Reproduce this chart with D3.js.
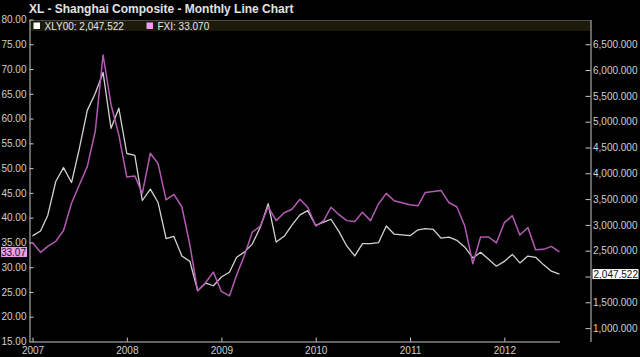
<!DOCTYPE html>
<html><head><meta charset="utf-8">
<script src="https://cdn.jsdelivr.net/npm/d3@7"></script>
<style>
html,body{margin:0;padding:0;background:#000;}
svg{display:block;font-family:"Liberation Sans",Arial,sans-serif;}
</style></head>
<body><svg id="c" width="640" height="357"></svg>
<script>
// ---- data ----
const startMonth = "2007-01";
const years = ["2007","2008","2009","2010","2011","2012"];
const shanghai = [
 2786.34,2881.07,3183.98,3841.27,4109.65,3820.70,4471.03,5218.83,5552.30,5954.77,4871.78,5261.56,
 4383.39,4348.54,3472.71,3693.11,3433.35,2736.10,2775.72,2397.37,2293.78,1728.79,1871.16,1820.81,
 1990.66,2082.85,2373.21,2477.57,2632.93,2959.36,3412.06,2667.74,2779.43,2995.85,3195.30,3277.14,
 2989.29,3051.94,3109.10,2870.61,2592.15,2398.37,2637.50,2638.80,2655.66,2978.84,2820.18,2808.08,
 2790.69,2905.05,2928.11,2911.51,2743.47,2762.08,2701.73,2567.34,2359.22,2468.25,2333.41,2199.42,
 2292.61,2428.49,2262.79,2396.32,2372.23,2225.43,2103.63,2047.522
];
const fxi = [
 35.0,33.0,34.2,35.2,37.4,42.9,46.6,50.3,57.5,72.85,62.8,56.7,
 48.2,48.4,44.9,53.0,50.9,43.6,44.7,42.2,34.5,25.2,26.9,29.0,
 25.1,24.2,28.4,32.5,37.1,38.3,42.2,39.4,41.0,41.7,43.7,42.1,
 38.3,39.4,42.1,40.6,39.4,39.2,41.1,39.4,42.8,44.9,43.4,43.0,
 42.6,42.4,45.1,45.3,45.5,43.0,42.2,38.3,30.7,36.1,36.1,34.9,
 39.0,40.4,36.5,38.0,33.5,33.6,34.2,33.07
];
const leftTicks = [15,20,25,30,35,40,45,50,55,60,65,70,75,80];
const rightTicks = [1000,1500,2000,2500,3000,3500,4000,4500,5000,5500,6000,6500];
const seriesNames = ["XLY00","FXI"];
const title = "XL - Shanghai Composite - Monthly Line Chart";

// ---- layout ----
const svg = d3.select("#c");
const L = 29.5, R = 590.5, T = 19.5, B = 341.5;
const parse = d3.timeParse("%Y-%m");
const d0 = parse(startMonth);
const dates = shanghai.map((_, i) => d3.timeMonth.offset(d0, i));

const x = d3.scaleTime().domain([dates[0], dates[dates.length-1]]).range([32.5, 559.4]);
const yL = d3.scaleLinear().domain([15, 80]).range([B, T]);
const yR = d3.scaleLinear().domain([740.5, 6980]).range([B, T]);

svg.append("rect").attr("width",640).attr("height",357).attr("fill","#000");

// title
svg.append("text").attr("x",29).attr("y",12.5)
  .attr("fill","#e2e2e2").attr("font-weight","bold").attr("font-size","12px")
  .text(title);

// legend band
svg.append("rect").attr("x",L).attr("y",20.5).attr("width",R-L).attr("height",10.5)
  .attr("fill","#1c1b0b");
svg.append("line").attr("x1",L).attr("x2",R).attr("y1",20.5).attr("y2",20.5).attr("stroke","#4a4a40");

const cWhite = "#d2d2d2", cPurple = "#b35ab3", cPink = "#f39bf3";
const lg = svg.append("g").attr("font-size","10px").attr("fill","#e8e8e8");
lg.append("rect").attr("x",33.5).attr("y",22.5).attr("width",6.5).attr("height",6.5).attr("fill","#ffffff");
lg.append("text").attr("x",44.5).attr("y",29.5).text(seriesNames[0] + ": " + d3.format(",.3f")(shanghai[shanghai.length-1]));
lg.append("rect").attr("x",146.5).attr("y",22.5).attr("width",6.5).attr("height",6.5).attr("fill",cPink);
lg.append("text").attr("x",157.5).attr("y",29.5).text(seriesNames[1] + ": " + d3.format(".3f")(fxi[fxi.length-1]));

// axes
const lastR = shanghai[shanghai.length-1];
const axL = d3.axisLeft(yL).tickValues(leftTicks).tickFormat(d3.format(".2f"))
  .tickSizeInner(-4).tickSizeOuter(0).tickPadding(3);
const axR = d3.axisRight(yR).tickValues(rightTicks).tickFormat(d3.format(",.3f"))
  .tickSizeInner(-5).tickSizeOuter(0).tickPadding(2.5);
const axB = d3.axisBottom(x).ticks(d3.timeYear.every(1)).tickFormat(d3.timeFormat("%Y"))
  .tickSizeInner(-4).tickSizeOuter(0).tickPadding(5);

function style(g){
  g.attr("font-size","10px").attr("font-family","Liberation Sans, Arial, sans-serif").style("color","#d0d0d0");
  g.select(".domain").attr("stroke","#c8c8c8");
  g.selectAll(".tick line").attr("stroke","#c8c8c8");
}
svg.append("g").attr("transform",`translate(${L},0)`).call(axL).call(style);
const gR = svg.append("g").attr("transform",`translate(${R},0)`).call(axR).call(style);
gR.selectAll(".tick text").filter(d => Math.abs(yR(d) - yR(lastR)) < 8).remove();
svg.append("g").attr("transform",`translate(0,${B})`).call(axB).call(style);

// lines
const lineR = d3.line().x((d,i)=>x(dates[i])).y(d=>yR(d));
const lineL = d3.line().x((d,i)=>x(dates[i])).y(d=>yL(d));
svg.append("path").datum(shanghai).attr("d",lineR).attr("fill","none")
  .attr("stroke",cWhite).attr("stroke-width",1.3).attr("stroke-linejoin","round");
svg.append("path").datum(fxi).attr("d",lineL).attr("fill","none")
  .attr("stroke",cPurple).attr("stroke-width",1.5).attr("stroke-linejoin","round");

// value boxes
const lastL = fxi[fxi.length-1];
const yb = yL(lastL);
svg.append("rect").attr("x",1).attr("y",yb-5).attr("width",26).attr("height",10).attr("fill",cPink);
svg.append("text").attr("x",26).attr("y",yb+3.6).attr("text-anchor","end").attr("font-size","10px")
  .attr("fill","#111").text(d3.format(".2f")(lastL));
const yr = yR(lastR);
svg.append("rect").attr("x",592.5).attr("y",yr-5).attr("width",46).attr("height",10).attr("fill","#ffffff");
svg.append("text").attr("x",593.5).attr("y",yr+3.6).attr("font-size","10px")
  .attr("fill","#111").text(d3.format(",.3f")(lastR));
</script></body></html>
